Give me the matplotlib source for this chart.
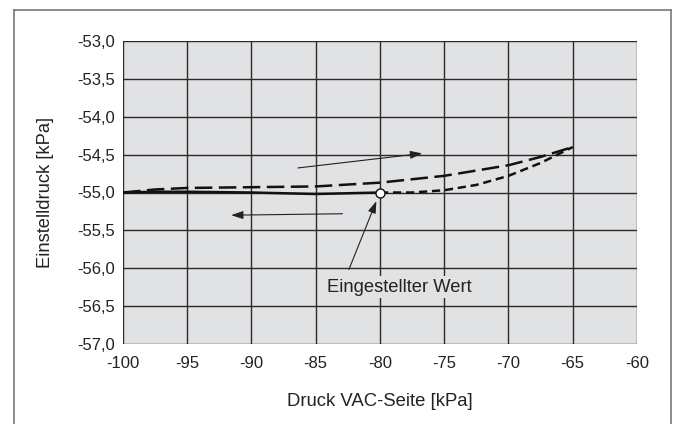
import matplotlib
matplotlib.use('Agg')
import matplotlib.pyplot as plt
from matplotlib.lines import Line2D

plt.rcParams['font.family'] = ['Liberation Sans', 'DejaVu Sans']

# data
x_up = [-100, -97.5, -95, -90, -85, -80, -75, -70, -67.5, -65]
y_up = [-55.0, -54.96, -54.94, -54.93, -54.92, -54.87, -54.78, -54.64, -54.53, -54.40]
x_solid = [-100, -97.5, -95, -90, -85, -82.5, -80]
y_solid = [-55.0, -54.99, -54.99, -55.0, -55.02, -55.01, -55.0]
x_dot = [-80, -77.5, -75, -72.5, -70, -67.5, -65]
y_dot = [-55.0, -55.0, -54.97, -54.90, -54.78, -54.61, -54.40]
set_x = -80
set_y = -55.0
xticks = [-100, -95, -90, -85, -80, -75, -70, -65, -60]
yticks = [-57.0, -56.5, -56.0, -55.5, -55.0, -54.5, -54.0, -53.5, -53.0]

fig = plt.figure(figsize=(6.76, 4.24), dpi=100)
ax = fig.add_axes([123/676, 1-344/424, 514/676, 303/424])
bg = '#e1e2e4'
ax.set_facecolor(bg)

ax.plot(x_up, y_up, color='#111111', lw=1.8, dashes=(7, 2.6), zorder=3)
ax.plot(x_solid, y_solid, color='#111111', lw=1.8, zorder=3)
ax.plot(x_dot, y_dot, color='#111111', lw=1.8, dashes=(3.3, 1.9), zorder=3)
ax.plot([set_x], [set_y], 'o', ms=6.5, mfc='white', mec='#111111', mew=1.0, zorder=5)

# direction arrows
ax.annotate('', xy=(-76.5, -54.48), xytext=(-86.6, -54.68),
            arrowprops=dict(arrowstyle='-|>,head_length=0.6,head_width=0.2', color='#222222', lw=0.8, mutation_scale=12), zorder=4)
ax.annotate('', xy=(-91.8, -55.30), xytext=(-82.7, -55.28),
            arrowprops=dict(arrowstyle='-|>,head_length=0.6,head_width=0.2', color='#222222', lw=0.8, mutation_scale=12), zorder=4)
# label of the set value
ax.annotate('', xy=(set_x-0.2, set_y-0.08), xytext=(-82.5, -56.05),
            arrowprops=dict(arrowstyle='-|>,head_length=0.6,head_width=0.2', color='#222222', lw=0.8, mutation_scale=12), zorder=4)
ax.text(-78.5, -56.25, 'Eingestellter Wert', ha='center', va='center', fontsize=13.2,
        color='#222222', zorder=6,
        bbox=dict(facecolor=bg, edgecolor='none', pad=2))

ax.set_xlim(-100, -60)
ax.set_ylim(-57, -53)
ax.set_xticks(xticks)
ax.set_yticks(yticks)
ax.set_xticklabels(['{:d}'.format(v) for v in xticks])
ax.set_yticklabels(['{:.1f}'.format(v).replace('.', ',') for v in yticks])
ax.tick_params(length=0, labelsize=12, colors='#222222')
ax.tick_params(axis='x', pad=9)
ax.tick_params(axis='y', pad=5.5)
ax.grid(True, color='#2a2a2a', lw=1.0)
ax.set_axisbelow(True)
for s in ax.spines.values():
    s.set_visible(False)

fig.text(380/676, 1-402/424, 'Druck VAC-Seite [kPa]', ha='center', va='center',
         fontsize=13.3, color='#222222')
fig.text(46/676, 1-192/424, 'Einstelldruck [kPa]', ha='center', va='center',
         rotation=90, fontsize=13.2, color='#222222')

# outer frame (no bottom edge)
fc = '#777777'
fig.add_artist(Line2D([13.5/676, 13.5/676], [0, 1-9.5/424], transform=fig.transFigure, color=fc, lw=1.2))
fig.add_artist(Line2D([670.5/676, 670.5/676], [0, 1-9.5/424], transform=fig.transFigure, color=fc, lw=1.2))
fig.add_artist(Line2D([13.5/676, 670.5/676], [1-9.5/424, 1-9.5/424], transform=fig.transFigure, color=fc, lw=1.2))

fig.savefig('out.png', dpi=100, facecolor='white')
